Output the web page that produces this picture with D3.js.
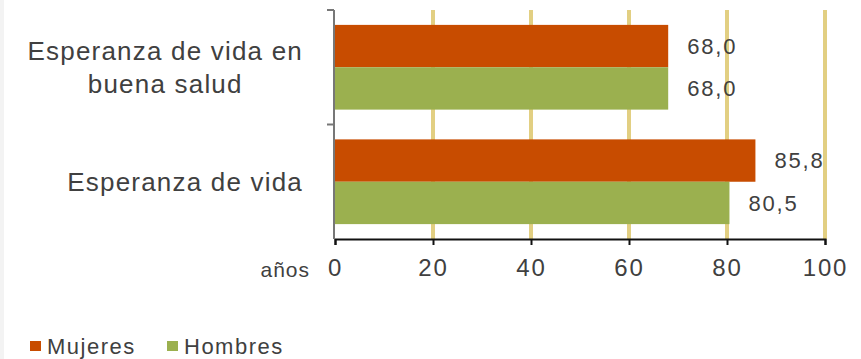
<!DOCTYPE html>
<html>
<head>
<meta charset="utf-8">
<script src="https://cdn.jsdelivr.net/npm/d3@7"></script>
<style>
  body { margin: 0; background: #fff; }
  text { font-family: "Liberation Sans", Arial, sans-serif; fill: #404040; }
</style>
</head>
<body>
<div id="chart"></div>
<script>
// categories and series
var categories = [["Esperanza de vida en", "buena salud"], ["Esperanza de vida"]];
var seriesNames = ["Mujeres", "Hombres"];
var mujeres = [68.0, 85.8];
var hombres = [68.0, 80.5];
var xTicks = [0, 20, 40, 60, 80, 100];
var colors = ["#c84c00", "#9bb04f"];

var width = 861, height = 359;
var margin = {top: 10, left: 335, right: 36, bottom: 120};

var svg = d3.select("#chart").append("svg")
    .attr("width", width)
    .attr("height", height);

// faint strip on the left edge
svg.append("rect").attr("x", 0).attr("y", 0).attr("width", 4).attr("height", height).attr("fill", "#f3f3f3");

var x = d3.scaleLinear().domain([0, 100]).range([margin.left, width - margin.right]);
var y = d3.scaleBand().domain(d3.range(categories.length))
    .range([margin.top, height - margin.bottom])
    .paddingInner(0.26).paddingOuter(0.13);
var ySub = d3.scaleBand().domain(seriesNames).range([0, y.bandwidth()]);

var plotBottom = height - margin.bottom;

//gridlines
svg.selectAll(".grid").data(xTicks.slice(1))
    .enter().append("line")
    .attr("x1", d => x(d)).attr("x2", d => x(d))
    .attr("y1", margin.top).attr("y2", plotBottom)
    .attr("stroke", "#e2cf82")
    .attr("stroke-width", 4);

var rows = categories.map((c, i) => ({i: i, values: [mujeres[i], hombres[i]]}));

var groups = svg.selectAll(".cat").data(rows).enter().append("g")
    .attr("transform", d => "translate(0," + y(d.i) + ")");

groups.selectAll("rect").data(d => d.values.map((v, k) => ({name: seriesNames[k], v: v, k: k})))
    .enter().append("rect")
    .attr("x", x(0))
    .attr("y", d => ySub(d.name))
    .attr("width", d => x(d.v) - x(0))
    .attr("height", ySub.bandwidth())
    .attr("fill", d => colors[d.k]);

groups.selectAll(".val").data(d => d.values.map((v, k) => ({name: seriesNames[k], v: v})))
    .enter().append("text")
    .attr("x", d => x(d.v) + 19)
    .attr("y", d => ySub(d.name) + ySub.bandwidth() / 2)
    .attr("dy", "0.36em")
    .attr("font-size", 22)
    .attr("letter-spacing", 1.8)
    .text(d => d.v.toFixed(1).replace(".", ","));

// x axis
var xAxis = svg.append("g")
    .attr("transform", "translate(0," + plotBottom + ")")
    .call(d3.axisBottom(x).tickValues(xTicks).tickSize(6).tickPadding(14));
xAxis.select(".domain").attr("stroke", "#111").attr("stroke-width", 2);
xAxis.selectAll(".tick line").attr("stroke", "#111").attr("stroke-width", 2);
xAxis.selectAll("text").attr("font-size", 24).attr("letter-spacing", 1.8)
    .attr("fill", "#404040").attr("font-family", "Liberation Sans, Arial, sans-serif");

svg.append("text")
    .attr("x", x(0) - 25).attr("y", plotBottom + 38)
    .attr("text-anchor", "end")
    .attr("font-size", 21)
    .attr("letter-spacing", 1)
    .text("años");

// y axis line with ticks on the band edges
svg.append("line")
    .attr("x1", x(0) - 1).attr("x2", x(0) - 1)
    .attr("y1", margin.top).attr("y2", plotBottom)
    .attr("stroke", "#777").attr("stroke-width", 2);
var yEdges = [margin.top, margin.top + y.step()];
svg.selectAll(".ytick").data(yEdges).enter().append("line")
    .attr("x1", x(0) - 8).attr("x2", x(0) - 1)
    .attr("y1", d => d).attr("y2", d => d)
    .attr("stroke", "#777").attr("stroke-width", 2);

// category labels: block right aligned, lines centred in the block
var labelRight = 303, lineH = 33;
categories.forEach(function(lines, i) {
    var g = svg.append("g");
    var cy = y(i) + y.bandwidth() / 2;
    var texts = lines.map(function(l, j) {
        return g.append("text")
            .attr("y", cy + (j - (lines.length - 1) / 2) * lineH)
            .attr("dy", "0.36em")
            .attr("font-size", 26)
            .attr("letter-spacing", 1.2)
            .text(l);
    });
    var w = d3.max(texts, t => t.node().getComputedTextLength());
    texts.forEach(t => t.attr("x", labelRight - w / 2).attr("text-anchor", "middle"));
});

// legend
var legend = svg.append("g").attr("transform", "translate(30,346)");
var lx = [0, 137];
seriesNames.forEach(function(n, k) {
    legend.append("rect").attr("x", lx[k]).attr("y", -5).attr("width", 11).attr("height", 10).attr("fill", colors[k]);
    legend.append("text").attr("x", lx[k] + 17).attr("y", 0).attr("dy", "0.36em")
        .attr("font-size", 22).attr("letter-spacing", 1.5).text(n);
});
</script>
</body>
</html>
